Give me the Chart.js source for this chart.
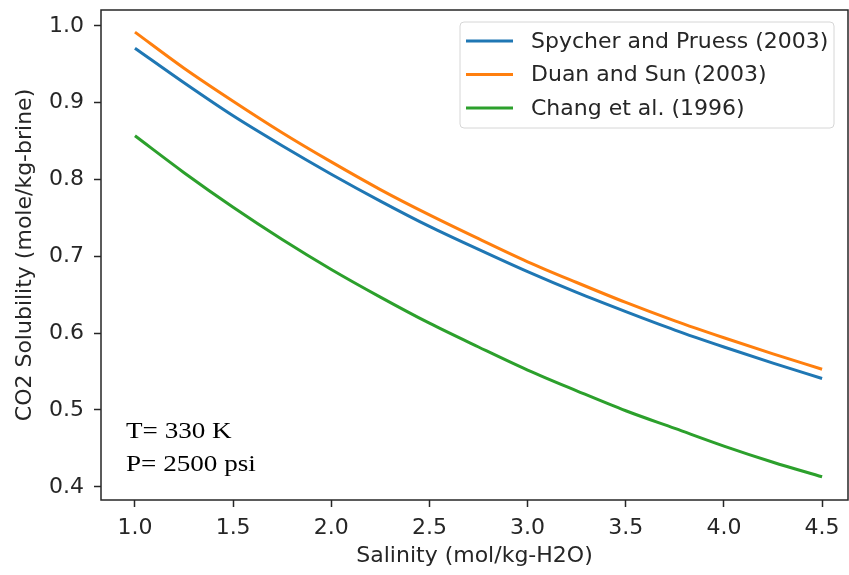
<!DOCTYPE html>
<html>
<head>
<meta charset="utf-8">
<script src="https://cdn.jsdelivr.net/npm/chart.js@4/dist/chart.umd.min.js"></script>
<style>
  html, body { margin: 0; padding: 0; background: #fff; }
  #wrap { width: 849px; height: 575px; position: relative; }
</style>
</head>
<body>
<div id="wrap"><canvas id="c" width="849" height="575"></canvas></div>
<script>
// Salinity (mol/kg-H2O)
const salinity = [1.0, 1.25, 1.5, 1.75, 2.0, 2.25, 2.5, 2.75, 3.0, 3.25, 3.5, 3.75, 4.0, 4.25, 4.5];
// CO2 solubility (mole/kg-brine)
const spycherPruess = [0.971, 0.926, 0.883, 0.844, 0.807, 0.772, 0.739, 0.709, 0.680, 0.653, 0.628, 0.604, 0.582, 0.561, 0.541];
const duanSun       = [0.992, 0.945, 0.902, 0.861, 0.823, 0.787, 0.754, 0.723, 0.693, 0.666, 0.640, 0.616, 0.594, 0.573, 0.553];
const changEtAl     = [0.857, 0.809, 0.764, 0.722, 0.683, 0.647, 0.613, 0.582, 0.552, 0.525, 0.499, 0.476, 0.453, 0.432, 0.413];

const seriesLabels = ['Spycher and Pruess (2003)', 'Duan and Sun (2003)', 'Chang et al. (1996)'];
const seriesColors = ['#1f77b4', '#ff7f0e', '#2ca02c'];
const xTicks = [1.0, 1.5, 2.0, 2.5, 3.0, 3.5, 4.0, 4.5];
const yTicks = [0.4, 0.5, 0.6, 0.7, 0.8, 0.9, 1.0];
const xTitle = 'Salinity (mol/kg-H2O)';
const yTitle = 'CO2 Solubility (mole/kg-brine)';
const noteLines = ['T= 330 K', 'P= 2500 psi'];

const FONT = 'DejaVu Sans';
const AX = '#262626';

function toXY(ys) { return ys.map((y, i) => ({ x: salinity[i], y: y })); }

const frame = {
  id: 'frame',
  afterDatasetsDraw(chart) {
    const a = chart.chartArea, ctx = chart.ctx;
    ctx.save();
    ctx.strokeStyle = AX;
    ctx.lineWidth = 1.5;
    ctx.strokeRect(a.left, a.top, a.right - a.left, a.bottom - a.top);
    ctx.restore();
  },
  afterDraw(chart) {
    const ctx = chart.ctx;
    const ds = chart.data.datasets;
    // legend
    ctx.save();
    const bx = 460, by = 22, bw = 374, bh = 106, r = 4;
    ctx.beginPath();
    ctx.moveTo(bx + r, by);
    ctx.arcTo(bx + bw, by, bx + bw, by + bh, r);
    ctx.arcTo(bx + bw, by + bh, bx, by + bh, r);
    ctx.arcTo(bx, by + bh, bx, by, r);
    ctx.arcTo(bx, by, bx + bw, by, r);
    ctx.closePath();
    ctx.fillStyle = 'rgba(255,255,255,0.8)';
    ctx.fill();
    ctx.strokeStyle = '#d6d6d6';
    ctx.lineWidth = 1;
    ctx.stroke();
    const rows = [41, 74.5, 108];
    ctx.font = '22px "' + FONT + '"';
    ctx.textBaseline = 'middle';
    ctx.textAlign = 'left';
    ds.forEach((d, i) => {
      ctx.strokeStyle = d.borderColor;
      ctx.lineWidth = 3;
      ctx.beginPath();
      ctx.moveTo(466, rows[i]);
      ctx.lineTo(513, rows[i]);
      ctx.stroke();
      ctx.fillStyle = AX;
      ctx.fillText(d.label, 531, rows[i] + 1);
    });
    // annotation
    ctx.fillStyle = '#000';
    ctx.font = '24px "Liberation Serif"';
    ctx.textBaseline = 'alphabetic';
    const baselines = [437.5, 470.5];
    noteLines.forEach((t, i) => {
      ctx.save();
      ctx.translate(126, baselines[i]);
      ctx.scale(1.13, 1);
      ctx.fillText(t, 0, 0);
      ctx.restore();
    });
    ctx.restore();
  }
};

new Chart(document.getElementById('c'), {
  type: 'line',
  data: {
    datasets: [spycherPruess, duanSun, changEtAl].map((v, i) => ({
      label: seriesLabels[i],
      data: toXY(v),
      borderColor: seriesColors[i],
      backgroundColor: seriesColors[i],
      borderWidth: 3,
      pointRadius: 0,
      cubicInterpolationMode: 'monotone',
      fill: false
    }))
  },
  options: {
    responsive: false,
    animation: false,
    devicePixelRatio: 1,
    layout: { padding: { top: 10, right: 1, left: 0, bottom: 0 } },
    plugins: { legend: { display: false }, tooltip: { enabled: false } },
    scales: {
      x: {
        type: 'linear',
        min: 0.827, max: 4.632,
        afterBuildTicks(s) { s.ticks = xTicks.map(v => ({ value: v })); },
        afterFit(s) { s.height = 75; s.paddingLeft = 0; s.paddingRight = 0; s.paddingTop = 0; s.paddingBottom = 0; },
        ticks: {
          autoSkip: false, maxRotation: 0,
          color: AX, padding: 8,
          font: { family: FONT, size: 22 },
          callback: v => Number(v).toFixed(1)
        },
        grid: { drawOnChartArea: false, drawTicks: true, tickLength: 7, tickWidth: 1.5, tickColor: AX },
        border: { display: false },
        title: { display: true, text: xTitle, color: AX, font: { family: FONT, size: 22 }, padding: { top: 0, bottom: 6 } }
      },
      y: {
        type: 'linear',
        min: 0.3828, max: 1.0208,
        afterBuildTicks(s) { s.ticks = yTicks.map(v => ({ value: v })); },
        afterFit(s) { s.width = 101; s.paddingLeft = 0; s.paddingRight = 0; s.paddingTop = 0; s.paddingBottom = 0; },
        ticks: {
          autoSkip: false,
          color: AX, padding: 10,
          font: { family: FONT, size: 22 },
          callback: v => Number(v).toFixed(1)
        },
        grid: { drawOnChartArea: false, drawTicks: true, tickLength: 7, tickWidth: 1.5, tickColor: AX },
        border: { display: false },
        title: { display: true, text: yTitle, color: AX, font: { family: FONT, size: 22 }, padding: { top: 12, bottom: 0 } }
      }
    }
  },
  plugins: [frame]
});
</script>
</body>
</html>
